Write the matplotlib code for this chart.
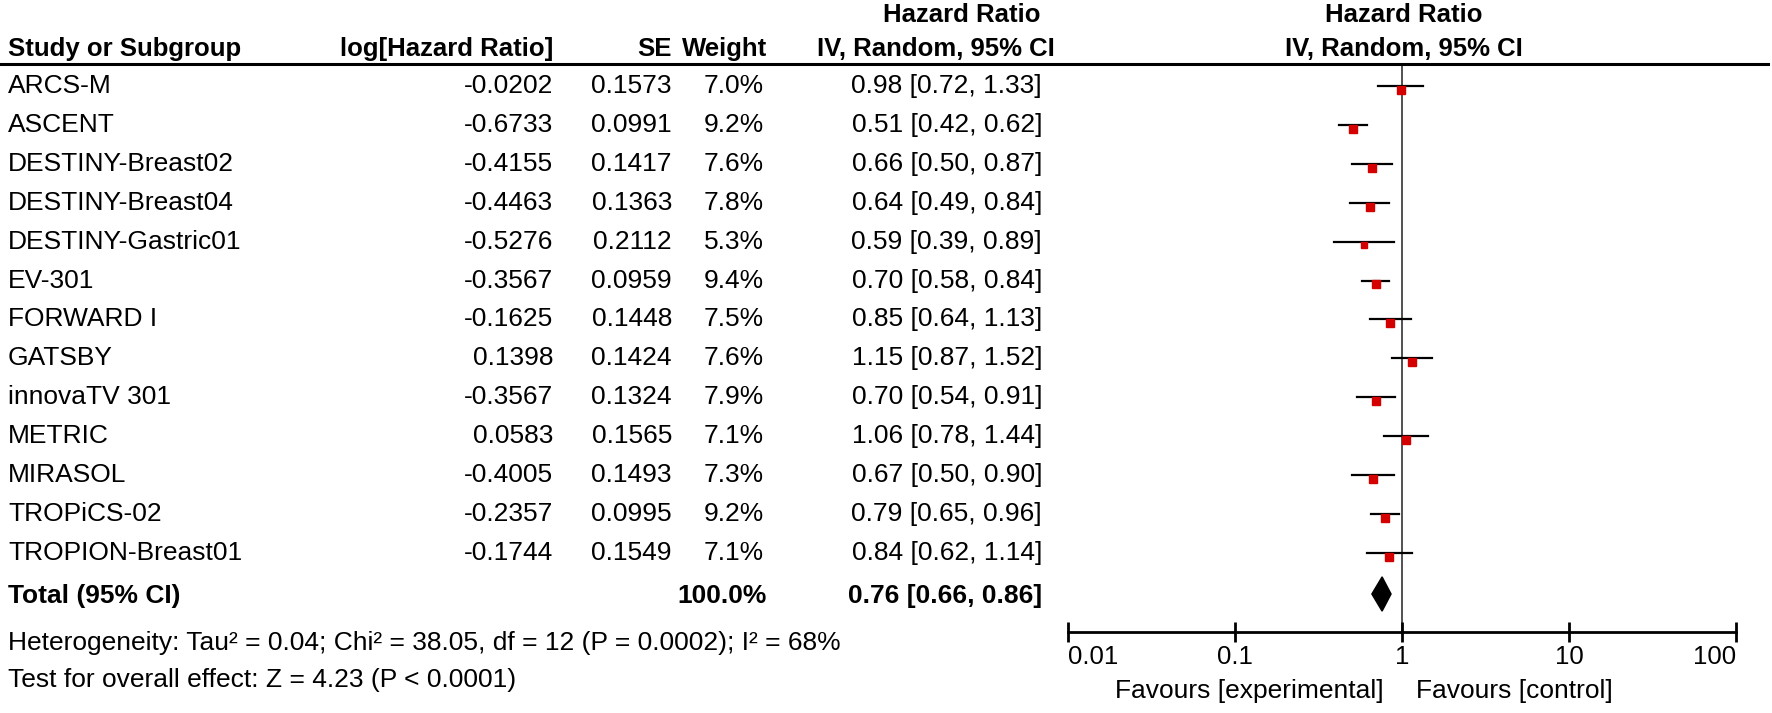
import matplotlib
matplotlib.use('Agg')
import matplotlib.pyplot as plt
import matplotlib.transforms as mtransforms
from matplotlib.lines import Line2D

plt.rcParams['font.family'] = ['Liberation Sans', 'DejaVu Sans']

studies = ['ARCS-M', 'ASCENT', 'DESTINY-Breast02', 'DESTINY-Breast04', 'DESTINY-Gastric01',
           'EV-301', 'FORWARD I', 'GATSBY', 'innovaTV 301', 'METRIC', 'MIRASOL',
           'TROPiCS-02', 'TROPION-Breast01']
log_hr = [-0.0202, -0.6733, -0.4155, -0.4463, -0.5276, -0.3567, -0.1625, 0.1398,
          -0.3567, 0.0583, -0.4005, -0.2357, -0.1744]
se = [0.1573, 0.0991, 0.1417, 0.1363, 0.2112, 0.0959, 0.1448, 0.1424,
      0.1324, 0.1565, 0.1493, 0.0995, 0.1549]
weight = [7.0, 9.2, 7.6, 7.8, 5.3, 9.4, 7.5, 7.6, 7.9, 7.1, 7.3, 9.2, 7.1]
hr = [0.98, 0.51, 0.66, 0.64, 0.59, 0.70, 0.85, 1.15, 0.70, 1.06, 0.67, 0.79, 0.84]
ci_lo = [0.72, 0.42, 0.50, 0.49, 0.39, 0.58, 0.64, 0.87, 0.54, 0.78, 0.50, 0.65, 0.62]
ci_hi = [1.33, 0.62, 0.87, 0.84, 0.89, 0.84, 1.13, 1.52, 0.91, 1.44, 0.90, 0.96, 1.14]

total_hr, total_lo, total_hi = 0.76, 0.66, 0.86
total_weight = 100.0
heterogeneity = 'Heterogeneity: Tau² = 0.04; Chi² = 38.05, df = 12 (P = 0.0002); I² = 68%'
overall = 'Test for overall effect: Z = 4.23 (P < 0.0001)'
ticks = [0.01, 0.1, 1, 10, 100]
tick_labels = ['0.01', '0.1', '1', '10', '100']

W, H = 1772, 713
fig = plt.figure(figsize=(W / 100, H / 100), dpi=100)

# forest panel: 0.01 at x=1068px, 100 at x=1736px, header line 64px, axis 632px
ax = fig.add_axes([1068 / W, (H - 632) / H, (1736 - 1068) / W, (632 - 64) / H])
ax.set_xscale('log')
ax.set_xlim(0.01, 100)
row0, step = 86, 38.9
ax.set_ylim((632 - row0) / step, (64 - row0) / step)

def ypx(p):
    return (p - row0) / step

ax.axvline(1, color='#333333', lw=1.2, zorder=1)
for i in range(len(studies)):
    ax.plot([ci_lo[i], ci_hi[i]], [i, i], color='black', lw=1.6, zorder=2)
    ax.plot(hr[i], i + 0.1, marker='s', color='#d40000', ms=2.1 * weight[i] ** 0.5,
            mec='#d40000', zorder=3)

yt = ypx(594)
h = 0.44
ax.fill([total_lo, total_hr, total_hi, total_hr], [yt, yt - h, yt, yt + h],
        color='black', zorder=3)

for s in ['top', 'left', 'right']:
    ax.spines[s].set_visible(False)
ax.spines['bottom'].set_linewidth(2.0)
ax.set_yticks([])
ax.set_xticks(ticks)
ax.set_xticklabels(tick_labels, fontsize=18.5)
ax.xaxis.set_minor_locator(matplotlib.ticker.NullLocator())
ax.tick_params(axis='x', direction='inout', length=15, width=2.0, pad=2)
labs = ax.get_xticklabels()
labs[0].set_ha('left')
labs[-1].set_ha('right')

fig.text(1384 / W, (H - 691) / H, 'Favours [experimental]', fontsize=19,
         ha='right', va='center')
fig.text(1416 / W, (H - 691) / H, 'Favours [control]', fontsize=19,
         ha='left', va='center')

# table text: x in figure fraction, y in row units
tr = mtransforms.blended_transform_factory(fig.transFigure, ax.transData)
fs = 19

def put(xpx, y, s, ha='left', bold=False, size=fs):
    ax.text(xpx / W, y, s, transform=tr, ha=ha, va='center', fontsize=size,
            fontweight='bold' if bold else 'normal', clip_on=False)

hs = 18.5
put(962, ypx(15), 'Hazard Ratio', ha='center', bold=True, size=hs)
put(1404, ypx(15), 'Hazard Ratio', ha='center', bold=True, size=hs)
hy = ypx(49)
put(8, hy, 'Study or Subgroup', bold=True, size=hs)
put(553, hy, 'log[Hazard Ratio]', ha='right', bold=True, size=hs)
put(672, hy, 'SE', ha='right', bold=True, size=hs)
put(767, hy, 'Weight', ha='right', bold=True, size=hs)
put(1055, hy, 'IV, Random, 95% CI', ha='right', bold=True, size=hs)
put(1404, hy, 'IV, Random, 95% CI', ha='center', bold=True, size=hs)

for i, name in enumerate(studies):
    put(8, i, name)
    put(553, i, '%.4f' % log_hr[i], ha='right')
    put(672, i, '%.4f' % se[i], ha='right')
    put(764, i, '%.1f%%' % weight[i], ha='right')
    put(1042, i, '%.2f [%.2f, %.2f]' % (hr[i], ci_lo[i], ci_hi[i]), ha='right')

ty = ypx(596)
put(8, ty, 'Total (95% CI)', bold=True)
put(767, ty, '%.1f%%' % total_weight, ha='right', bold=True)
put(1042, ty, '%.2f [%.2f, %.2f]' % (total_hr, total_lo, total_hi), ha='right', bold=True)
put(8, ypx(643), heterogeneity)
put(8, ypx(680), overall)

fig.add_artist(Line2D([0, 1768 / W], [(H - 64) / H] * 2, color='black', lw=2.2,
                      transform=fig.transFigure))

fig.savefig('out.png', dpi=100)
